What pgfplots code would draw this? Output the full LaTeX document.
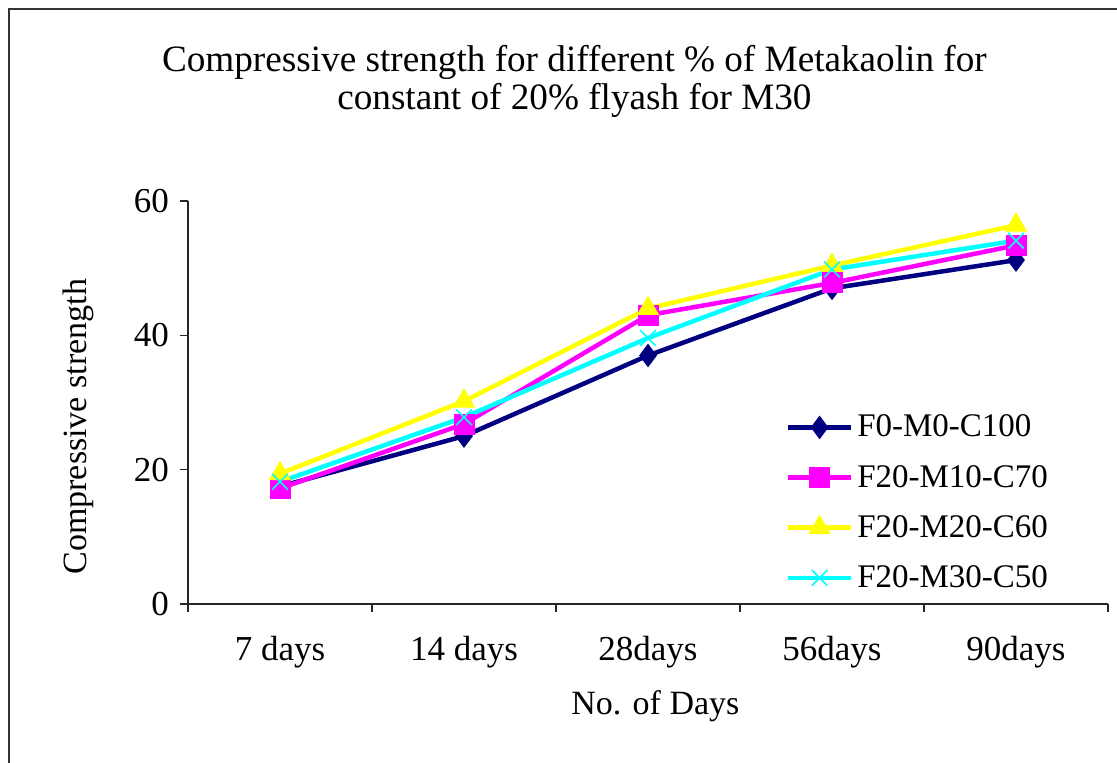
\documentclass[border=0pt]{standalone}
\usepackage{fontspec}
\setmainfont{Liberation Serif}
\usepackage{pgfplots}
\pgfplotsset{compat=1.18}
\definecolor{navyc}{RGB}{0,0,128}
\definecolor{magc}{RGB}{255,0,255}
\definecolor{yelc}{RGB}{255,255,0}
\definecolor{cyac}{RGB}{0,255,255}
\begin{document}
\begin{tikzpicture}[x=1pt,y=1pt]
\useasboundingbox (0,0) rectangle (558.5,-381);
\draw[line width=1.3pt, black!80] (4.5,-4.5) rectangle (620,-440);
\begin{axis}[
  at={(94pt,-302pt)}, anchor=origin,
  scale only axis, width=460pt, height=201.5pt,
  xmin=0, xmax=5, ymin=0, ymax=60,
  axis x line=bottom, axis y line=left,
  axis line style={-, line width=0.6pt, black!85},
  xtick={0,1,2,3,4,5},
  xticklabels={7 days,14 days,28days,56days,90days},
  x tick label as interval,
  ytick={0,20,40,60},
  tick align=outside, major tick length=4pt,
  tick style={line width=0.6pt, black!85},
  /pgf/number format/assume math mode=true,
  ticklabel style={font=\fontsize{17.5}{20}\selectfont},
  xticklabel style={yshift=-8.5pt},
  yticklabel style={xshift=-2pt},
  xlabel={No. of Days},
  ylabel={Compressive strength},
  label style={font=\fontsize{17}{20}\selectfont},
  xlabel style={at={(axis description cs:0.508,-0.253)}, anchor=center},
  ylabel style={at={(axis description cs:-0.1196,0.44)}, anchor=center},
  title={Compressive strength for different \% of Metakaolin for\\constant of 20\% flyash for M30},
  title style={at={(axis description cs:0.42,1.268)}, anchor=center, align=center, font=\fontsize{18.6}{19}\selectfont},
  legend style={draw=none, fill=none, at={(axis description cs:0.645,0.49)}, anchor=north west,
    font=\fontsize{16.5}{19}\selectfont, row sep=8.6pt, inner sep=2pt},
  legend cell align=left,
  legend image code/.code={\draw[mark repeat=2,mark phase=2] plot coordinates {(0pt,0pt) (15.75pt,0pt) (31.5pt,0pt)};},
  every axis plot/.append style={line width=2.25pt},
]
\addplot[color=navyc, mark=diamond*, mark size=5.5pt, mark options={solid,line width=0.5pt}]
  coordinates {(0.5,17.5) (1.5,25.0) (2.5,37.0) (3.5,47.0) (4.5,51.2)};
\addlegendentry{F0-M0-C100}
\addplot[color=magc, mark=square*, mark size=5pt, mark options={solid,line width=0.5pt}]
  coordinates {(0.5,17.2) (1.5,26.8) (2.5,43.0) (3.5,47.8) (4.5,53.4)};
\addlegendentry{F20-M10-C70}
\addplot[color=yelc, mark=triangle*, mark size=6pt, mark options={solid,line width=0.5pt}]
  coordinates {(0.5,19.4) (1.5,30.2) (2.5,44.0) (3.5,50.4) (4.5,56.4)};
\addlegendentry{F20-M20-C60}
\addplot[color=cyac, mark=x, mark size=5.5pt, mark options={solid,line width=0.8pt}]
  coordinates {(0.5,18.2) (1.5,27.8) (2.5,39.6) (3.5,49.8) (4.5,54.1)};
\addlegendentry{F20-M30-C50}
\end{axis}
\end{tikzpicture}
\end{document}
